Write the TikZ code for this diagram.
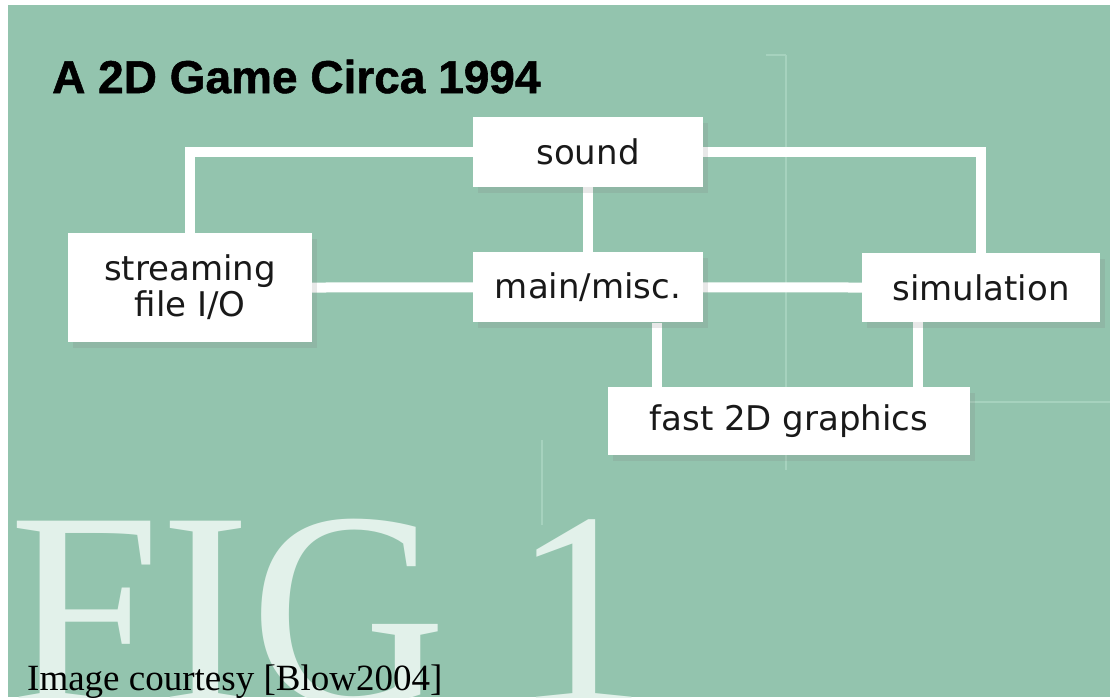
\documentclass[tikz,border=0pt]{standalone}
\usepackage{fontspec}
\setmainfont{Liberation Serif}
\newfontfamily\boxfont{DejaVu Sans}
\newfontfamily\headfont[BoldFeatures={FakeBold=1.2}]{Liberation Sans}
\usetikzlibrary{positioning, shadows, backgrounds}
\pgfdeclarelayer{backdrop}
\pgfsetlayers{backdrop,background,main}
\definecolor{figgreen}{RGB}{147,196,174}
\definecolor{figpale}{RGB}{226,241,234}
\definecolor{figline}{RGB}{166,210,190}
\definecolor{figtext}{RGB}{25,25,25}
\tikzset{
  block/.style = {fill=white, inner sep=0pt, align=center, text=figtext,
                  font=\boxfont\fontsize{34}{36}\selectfont,
                  drop shadow={opacity=0.18, shadow xshift=5pt, shadow yshift=-6pt}},
  link/.style  = {draw=white, line width=10pt},
  faint/.style = {draw=figline, line width=1.5pt},
  bigfig/.style = {anchor=base west, inner sep=0pt, text=figpale,
                   font=\fontsize{280}{280}\selectfont},
}

\begin{document}
\begin{tikzpicture}[x=1pt, y=-1pt]
  \useasboundingbox (0,0) rectangle (1110,697);
  % backdrop with the faint grid and the big caption
  \begin{pgfonlayer}{backdrop}
    \fill[figgreen] (8,5) rectangle (1110,697);
    \draw[faint] (786,55) -- (786,470);
    \draw[faint] (766,55) -- (786,55);
    \draw[faint] (542,440) -- (542,525);
    \draw[faint] (965,402) -- (1110,402);
    \begin{scope}
      \clip (8,5) rectangle (1110,697);
      \node[bigfig] (fig) at (9,704) {\scalebox{0.97}[1]{FIG}};
      \node[bigfig] (one) at (512,704) {\scalebox{0.97}[1]{1}};
    \end{scope}
  \end{pgfonlayer}

  \node[anchor=base west, inner sep=0pt, font=\headfont\bfseries\fontsize{46}{50}\selectfont]
    (title) at (52,93) {A 2D Game Circa 1994};

  % subsystems
  \node[block, minimum width=230pt, minimum height=70pt] (sound) at (588,152) {sound};
  \node[block, minimum width=230pt, minimum height=70pt, below=65pt of sound] (main) {main/misc.};
  \node[block, minimum width=244pt, minimum height=109pt] (stream) at (190,287.5) {streaming\\file I/O};
  \node[block, minimum width=238pt, minimum height=69pt] (sim) at (981,287.5) {simulation};
  \node[block, minimum width=362pt, minimum height=68pt] (gfx) at (789,421) {fast 2D graphics};

  \coordinate (gfxl) at ([xshift=-132pt]gfx.north);
  \coordinate (gfxr) at ([xshift=129pt]gfx.north);
  \begin{scope}[on background layer]
    \draw[link] (sound.west) -| (stream.north);
    \draw[link] (sound.east) -| (sim.north);
    \draw[link] (sound) -- (main);
    \draw[link] (stream.east) -- (main.west);
    \draw[link] (main.east) -- (sim.west);
    \draw[link] (gfxl) -- (gfxl |- main.south);
    \draw[link] (gfxr) -- (gfxr |- sim.south);
  \end{scope}

  \node[anchor=base west, inner sep=0pt, font=\fontsize{37}{40}\selectfont]
    (credit) at (27,690) {Image courtesy [Blow2004]};
\end{tikzpicture}
\end{document}
